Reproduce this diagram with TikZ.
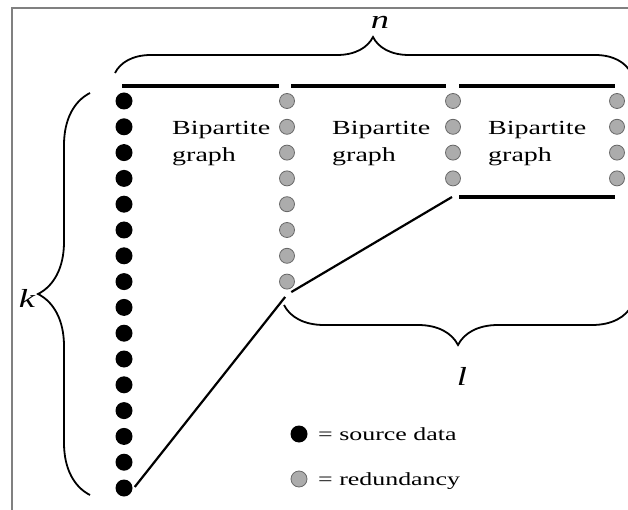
\documentclass[tikz,border=0pt]{standalone}
\usepackage{fontspec}
\setmainfont{Liberation Serif}
\newfontfamily\wideserif[FakeStretch=1.4]{Liberation Serif}
\usetikzlibrary{decorations.pathreplacing,calc}

\definecolor{redfill}{RGB}{172,172,172}
\definecolor{redline}{RGB}{105,105,105}

\tikzset{
	src/.style={circle,fill=black,inner sep=0pt,minimum size=17pt},
	redun/.style={circle,draw=redline,fill=redfill,line width=0.8pt,inner sep=0pt,minimum size=15pt},
	bar/.style={line width=4pt},
	link/.style={line width=2.2pt},
	curly/.style={decorate,decoration={brace,amplitude=#1},line width=1.8pt},
	txt/.style={inner sep=0pt,align=left,font=\wideserif\fontsize{20}{27}\selectfont},
	legtxt/.style={inner sep=0pt,font=\wideserif\fontsize{18.5}{22}\selectfont},
	lbl/.style={inner sep=0pt,font=\wideserif\itshape\fontsize{26}{26}\selectfont}
}

\begin{document}
\begin{tikzpicture}[x=1pt,y=-1pt]
	\useasboundingbox (0,0) rectangle (628,510);
	%frame
	\draw[gray,line width=1.5pt] (12,510) -- (12,8) -- (628,8);
	
	%source column
	\foreach \i in {1,...,16}
		\node[src] (s\i) at (124,{101+25.8*(\i-1)}) {};
	
	%redundancy columns
	\foreach \i in {1,...,8}
		\node[redun] (a\i) at (287,{101+25.8*(\i-1)}) {};
	\foreach \i in {1,...,4}{
		\node[redun] (b\i) at (453,{101+25.8*(\i-1)}) {};
		\node[redun] (c\i) at (617,{101+25.8*(\i-1)}) {};
	}
	
	%bars
	\draw[bar] (122,86) -- (279,86);
	\draw[bar] (291,86) -- (446,86);
	\draw[bar] (459,86) -- (615,86);
	\draw[bar] (459,197) -- (615,197);
	
	\node[txt,anchor=north west] (g1) at (172,121) {Bipartite\\graph};
	\node[txt,anchor=north west] (g2) at (332,121) {Bipartite\\graph};
	\node[txt,anchor=north west] (g3) at (488,121) {Bipartite\\graph};
	
	%slope
	\coordinate (knee) at ($(a8)+(0,13)$);
	\coordinate (turn) at (452,197);
	\draw[link,shorten >=3pt] ($(s16.east)+(2,-1)$) -- (knee);
	\draw[link,shorten <=5pt] (knee) -- (turn);
	
	%braces
	\draw[curly=36] (115,73) -- (631,73);
	\node[lbl] (n) at (380,22) {n};
	\draw[curly=52] (90,495) -- (90,93);
	\node[lbl] (k) at (27,298) {k};
	\draw[curly=40] (632,305) -- (284,305);
	\node[lbl] (l) at (462,376) {l};
	
	%legend
	\node[src] (ls) at (299,434) {};
	\node[redun,minimum size=16pt] (lr) at (299,479) {};
	\node[legtxt,anchor=base west] (lst) at (318,440) {= source data};
	\node[legtxt,anchor=base west] (lrt) at (318,485) {= redundancy};
\end{tikzpicture}
\end{document}
